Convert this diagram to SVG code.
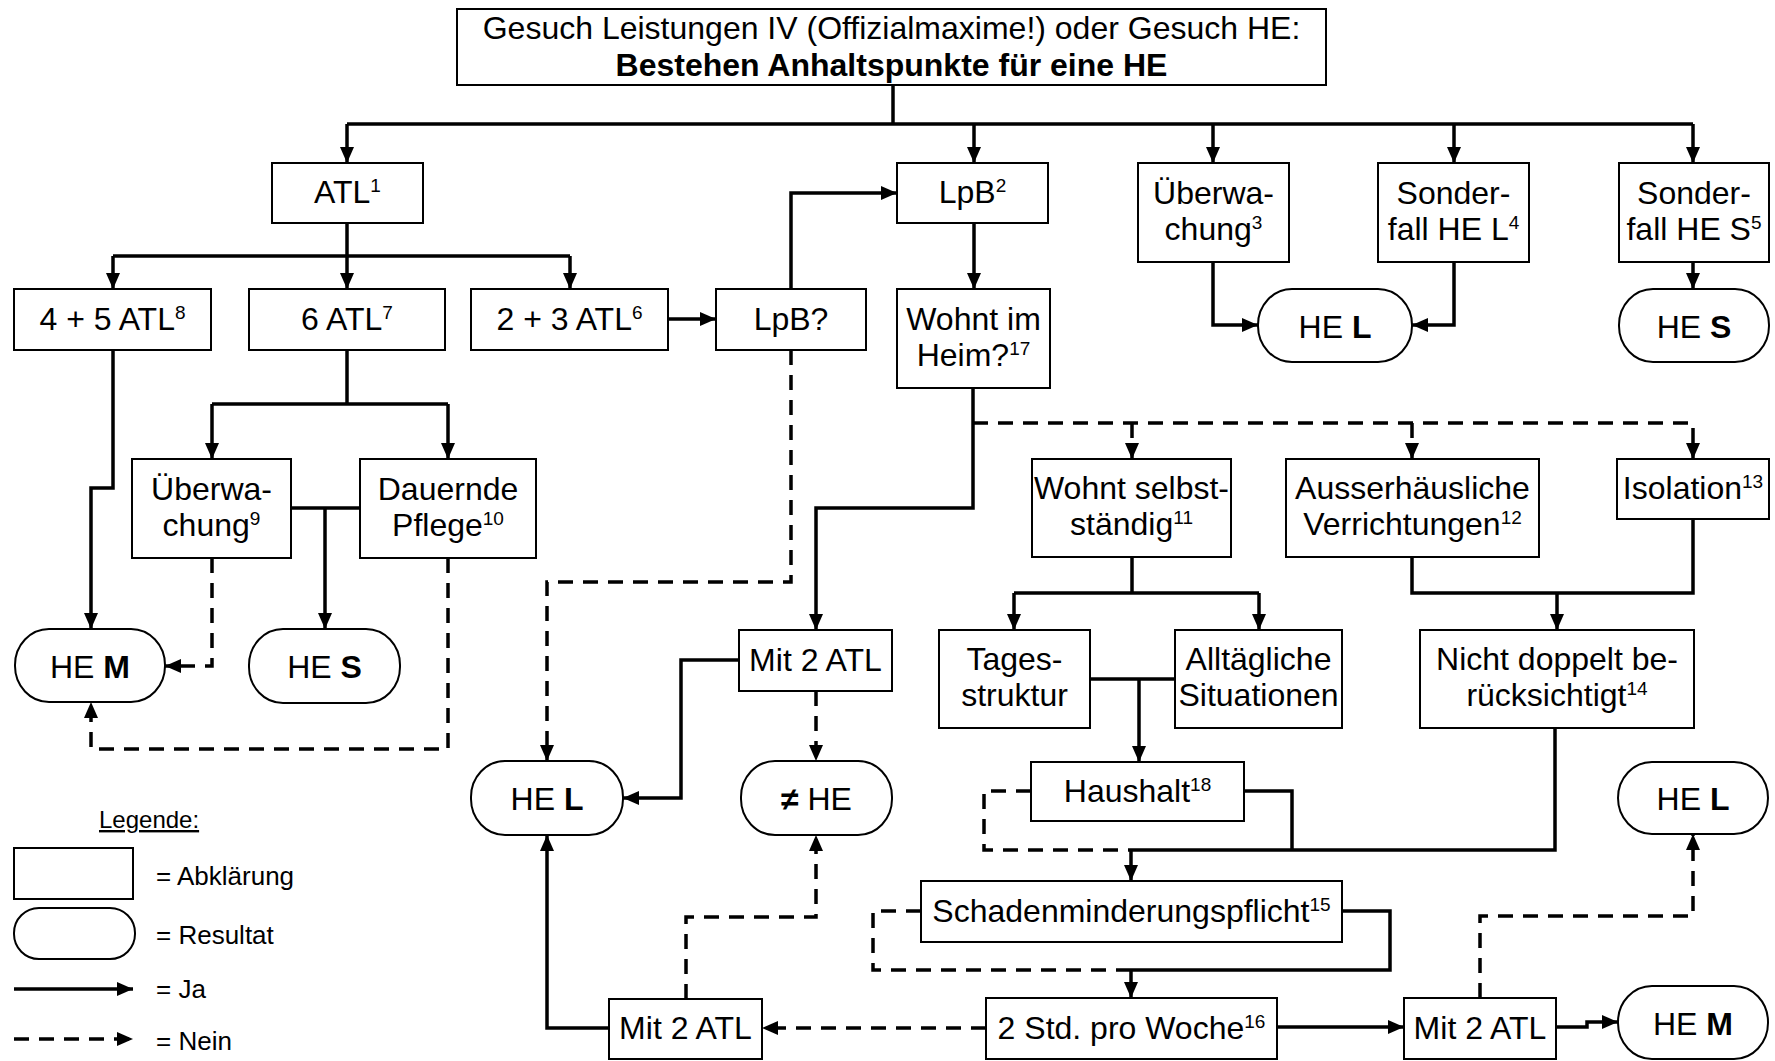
<svg xmlns="http://www.w3.org/2000/svg" width="1775" height="1061" viewBox="0 0 1775 1061">
<defs>
<style>
.box{fill:#fff;stroke:#000;stroke-width:2}
.res{fill:#fff;stroke:#000;stroke-width:2}
.c{fill:none;stroke:#000;stroke-width:3.5;stroke-linejoin:miter}
.d{fill:none;stroke:#000;stroke-width:3.5;stroke-dasharray:15 10}
.t{font-family:"Liberation Sans",Arial,sans-serif;font-size:32px;text-anchor:middle;fill:#000}
.b{font-weight:bold}
.sup{font-size:19px}
.lg{font-family:"Liberation Sans",Arial,sans-serif;font-size:26px;fill:#000}
.lh{font-family:"Liberation Sans",Arial,sans-serif;font-size:24px;fill:#000;text-decoration:underline}
</style>
<marker id="ah" viewBox="0 0 16 14" markerWidth="16" markerHeight="14" refX="16" refY="7" orient="auto" markerUnits="userSpaceOnUse">
<path d="M0,0 L16,7 L0,14 z" fill="#000"/>
</marker>
</defs>
<rect x="0" y="0" width="1775" height="1061" fill="#fff"/>

<g id="connectors">
<path class="c" d="M893,85 V124"/>
<path class="c" d="M347,124 H1693"/>
<path class="c" d="M347,124 V163" marker-end="url(#ah)"/>
<path class="c" d="M974,124 V163" marker-end="url(#ah)"/>
<path class="c" d="M1213,124 V163" marker-end="url(#ah)"/>
<path class="c" d="M1454,124 V163" marker-end="url(#ah)"/>
<path class="c" d="M1693,124 V163" marker-end="url(#ah)"/>
<path class="c" d="M347,223 V256"/>
<path class="c" d="M113,256 H570"/>
<path class="c" d="M113,256 V289" marker-end="url(#ah)"/>
<path class="c" d="M347,256 V289" marker-end="url(#ah)"/>
<path class="c" d="M570,256 V289" marker-end="url(#ah)"/>
<path class="c" d="M668,319 H716" marker-end="url(#ah)"/>
<path class="c" d="M791,289 V193 H897" marker-end="url(#ah)"/>
<path class="c" d="M974,223 V289" marker-end="url(#ah)"/>
<path class="c" d="M1213,262 V325 H1258" marker-end="url(#ah)"/>
<path class="c" d="M1454,262 V325 H1412" marker-end="url(#ah)"/>
<path class="c" d="M1693,262 V289" marker-end="url(#ah)"/>
<path class="c" d="M113,350 V488 H91 V629" marker-end="url(#ah)"/>
<path class="c" d="M347,350 V404"/>
<path class="c" d="M212,404 H448"/>
<path class="c" d="M212,404 V459" marker-end="url(#ah)"/>
<path class="c" d="M448,404 V459" marker-end="url(#ah)"/>
<path class="c" d="M291,508 H360"/>
<path class="c" d="M325,508 V629" marker-end="url(#ah)"/>
<path class="d" d="M212,558 V666 H165" marker-end="url(#ah)"/>
<path class="d" d="M448,558 V749 H91 V702" marker-end="url(#ah)"/>
<path class="d" d="M791,350 V582 H547 V761" marker-end="url(#ah)"/>
<path class="c" d="M973,388 V508 H816 V630" marker-end="url(#ah)"/>
<path class="d" d="M973,423 H1693 V459" marker-end="url(#ah)"/>
<path class="d" d="M1132,423 V459" marker-end="url(#ah)"/>
<path class="d" d="M1412,423 V459" marker-end="url(#ah)"/>
<path class="c" d="M739,660 H681 V798 H623" marker-end="url(#ah)"/>
<path class="d" d="M816,691 V761" marker-end="url(#ah)"/>
<path class="c" d="M1132,557 V593"/>
<path class="c" d="M1014,593 H1259"/>
<path class="c" d="M1014,593 V630" marker-end="url(#ah)"/>
<path class="c" d="M1259,593 V630" marker-end="url(#ah)"/>
<path class="c" d="M1090,679 H1175"/>
<path class="c" d="M1139,679 V762" marker-end="url(#ah)"/>
<path class="c" d="M1412,557 V593 H1693 V519"/>
<path class="c" d="M1557,593 V630" marker-end="url(#ah)"/>
<path class="c" d="M1244,791 H1292 V850"/>
<path class="c" d="M1555,728 V850 H1131"/>
<path class="c" d="M1131,850 V881" marker-end="url(#ah)"/>
<path class="d" d="M1031,791 H984 V850 H1131"/>
<path class="c" d="M1342,911 H1390 V970 H1131"/>
<path class="c" d="M1131,970 V998" marker-end="url(#ah)"/>
<path class="d" d="M921,911 H873 V970 H1131"/>
<path class="c" d="M1277,1027 H1404" marker-end="url(#ah)"/>
<path class="d" d="M986,1028 H762" marker-end="url(#ah)"/>
<path class="c" d="M609,1028 H547 V835" marker-end="url(#ah)"/>
<path class="d" d="M686,999 V917 H816 V835" marker-end="url(#ah)"/>
<path class="d" d="M1480,998 V916 H1693 V834" marker-end="url(#ah)"/>
<path class="c" d="M1556,1027 H1587 V1022 H1618" marker-end="url(#ah)"/>
</g>

<g id="n-start"><rect class="box" x="457" y="9" width="869" height="76"/>
<text class="t" x="891.5" y="39">Gesuch Leistungen IV (Offizialmaxime!) oder Gesuch HE:</text>
<text class="t b" x="891.5" y="76">Bestehen Anhaltspunkte für eine HE</text></g>

<g id="n-atl"><rect class="box" x="272" y="163" width="151" height="60"/>
<text class="t" x="347.5" y="203">ATL<tspan class="sup" dy="-11">1</tspan></text></g>
<g id="n-lpb"><rect class="box" x="897" y="163" width="151" height="60"/>
<text class="t" x="972.5" y="203">LpB<tspan class="sup" dy="-11">2</tspan></text></g>
<g id="n-ueberw3"><rect class="box" x="1138" y="163" width="151" height="99"/>
<text class="t" x="1213.5" y="203.5">Überwa-</text>
<text class="t" x="1213.5" y="239.5">chung<tspan class="sup" dy="-11">3</tspan></text></g>
<g id="n-sonderL"><rect class="box" x="1378" y="163" width="151" height="99"/>
<text class="t" x="1453.5" y="203.5">Sonder-</text>
<text class="t" x="1453.5" y="239.5">fall HE L<tspan class="sup" dy="-11">4</tspan></text></g>
<g id="n-sonderS"><rect class="box" x="1619" y="163" width="150" height="99"/>
<text class="t" x="1694" y="203.5">Sonder-</text>
<text class="t" x="1694" y="239.5">fall HE S<tspan class="sup" dy="-11">5</tspan></text></g>

<g id="n-45atl"><rect class="box" x="14" y="289" width="197" height="61"/>
<text class="t" x="112.5" y="329.5">4 + 5 ATL<tspan class="sup" dy="-11">8</tspan></text></g>
<g id="n-6atl"><rect class="box" x="249" y="289" width="196" height="61"/>
<text class="t" x="347" y="329.5">6 ATL<tspan class="sup" dy="-11">7</tspan></text></g>
<g id="n-23atl"><rect class="box" x="471" y="289" width="197" height="61"/>
<text class="t" x="569.5" y="329.5">2 + 3 ATL<tspan class="sup" dy="-11">6</tspan></text></g>
<g id="n-lpbq"><rect class="box" x="716" y="289" width="150" height="61"/>
<text class="t" x="791" y="329.5">LpB?</text></g>
<g id="n-heim"><rect class="box" x="897" y="289" width="153" height="99"/>
<text class="t" x="973.5" y="329.5">Wohnt im</text>
<text class="t" x="973.5" y="365.5">Heim?<tspan class="sup" dy="-11">17</tspan></text></g>
<g id="n-heL1"><rect class="res" x="1258" y="289" width="154" height="73" rx="34" ry="36"/>
<text class="t" x="1335" y="337.5">HE <tspan class="b">L</tspan></text></g>
<g id="n-heS1"><rect class="res" x="1619" y="289" width="150" height="73" rx="34" ry="36"/>
<text class="t" x="1694" y="337.5">HE <tspan class="b">S</tspan></text></g>

<g id="n-ueberw9"><rect class="box" x="132" y="459" width="159" height="99"/>
<text class="t" x="211.5" y="499.5">Überwa-</text>
<text class="t" x="211.5" y="535.5">chung<tspan class="sup" dy="-11">9</tspan></text></g>
<g id="n-pflege"><rect class="box" x="360" y="459" width="176" height="99"/>
<text class="t" x="448" y="499.5">Dauernde</text>
<text class="t" x="448" y="535.5">Pflege<tspan class="sup" dy="-11">10</tspan></text></g>
<g id="n-selbst"><rect class="box" x="1032" y="459" width="199" height="98"/>
<text class="t" x="1131.5" y="499">Wohnt selbst-</text>
<text class="t" x="1131.5" y="535">ständig<tspan class="sup" dy="-11">11</tspan></text></g>
<g id="n-ausser"><rect class="box" x="1286" y="459" width="253" height="98"/>
<text class="t" x="1412.5" y="499">Ausserhäusliche</text>
<text class="t" x="1412.5" y="535">Verrichtungen<tspan class="sup" dy="-11">12</tspan></text></g>
<g id="n-isolation"><rect class="box" x="1617" y="459" width="152" height="60"/>
<text class="t" x="1693" y="499">Isolation<tspan class="sup" dy="-11">13</tspan></text></g>

<g id="n-heM1"><rect class="res" x="15" y="629" width="150" height="73" rx="34" ry="36"/>
<text class="t" x="90" y="677.5">HE <tspan class="b">M</tspan></text></g>
<g id="n-heS2"><rect class="res" x="249" y="629" width="151" height="74" rx="34" ry="36"/>
<text class="t" x="324.5" y="678">HE <tspan class="b">S</tspan></text></g>

<g id="n-mit2a"><rect class="box" x="739" y="630" width="153" height="61"/>
<text class="t" x="815.5" y="670.5">Mit 2 ATL</text></g>
<g id="n-tages"><rect class="box" x="939" y="630" width="151" height="98"/>
<text class="t" x="1014.5" y="670">Tages-</text>
<text class="t" x="1014.5" y="706">struktur</text></g>
<g id="n-alltag"><rect class="box" x="1175" y="630" width="167" height="98"/>
<text class="t" x="1258.5" y="670">Alltägliche</text>
<text class="t" x="1258.5" y="706">Situationen</text></g>
<g id="n-nicht"><rect class="box" x="1420" y="630" width="274" height="98"/>
<text class="t" x="1557" y="670">Nicht doppelt be-</text>
<text class="t" x="1557" y="706">rücksichtigt<tspan class="sup" dy="-11">14</tspan></text></g>

<g id="n-heL2"><rect class="res" x="471" y="761" width="152" height="74" rx="34" ry="36"/>
<text class="t" x="547" y="810">HE <tspan class="b">L</tspan></text></g>
<g id="n-nohe"><rect class="res" x="741" y="761" width="151" height="74" rx="34" ry="36"/>
<text class="t" x="816.5" y="810"><tspan class="b">≠</tspan> HE</text></g>
<g id="n-haushalt"><rect class="box" x="1031" y="762" width="213" height="59"/>
<text class="t" x="1137.5" y="801.5">Haushalt<tspan class="sup" dy="-11">18</tspan></text></g>
<g id="n-heL3"><rect class="res" x="1618" y="762" width="150" height="72" rx="34" ry="36"/>
<text class="t" x="1693" y="810">HE <tspan class="b">L</tspan></text></g>

<g id="n-schaden"><rect class="box" x="921" y="881" width="421" height="61"/>
<text class="t" x="1131.5" y="921.5">Schadenminderungspflicht<tspan class="sup" dy="-11">15</tspan></text></g>

<g id="n-mit2b"><rect class="box" x="609" y="999" width="153" height="60"/>
<text class="t" x="685.5" y="1039">Mit 2 ATL</text></g>
<g id="n-2std"><rect class="box" x="986" y="998" width="291" height="61"/>
<text class="t" x="1131.5" y="1038.5">2 Std. pro Woche<tspan class="sup" dy="-11">16</tspan></text></g>
<g id="n-mit2c"><rect class="box" x="1404" y="998" width="152" height="61"/>
<text class="t" x="1480" y="1038.5">Mit 2 ATL</text></g>
<g id="n-heM2"><rect class="res" x="1618" y="986" width="150" height="73" rx="34" ry="36"/>
<text class="t" x="1693" y="1034.5">HE <tspan class="b">M</tspan></text></g>

<g id="legend">
<text class="lh" x="99" y="828">Legende:</text>
<rect class="box" x="14" y="848" width="119" height="51"/>
<text class="lg" x="156" y="885">= Abklärung</text>
<rect class="res" x="14" y="908" width="121" height="51" rx="25" ry="25"/>
<text class="lg" x="156" y="944">= Resultat</text>
<path class="c" d="M14,989 H133" marker-end="url(#ah)"/>
<text class="lg" x="156" y="998">= Ja</text>
<path class="d" d="M14,1039 H133" marker-end="url(#ah)"/>
<text class="lg" x="156" y="1050">= Nein</text>
</g>
</svg>
